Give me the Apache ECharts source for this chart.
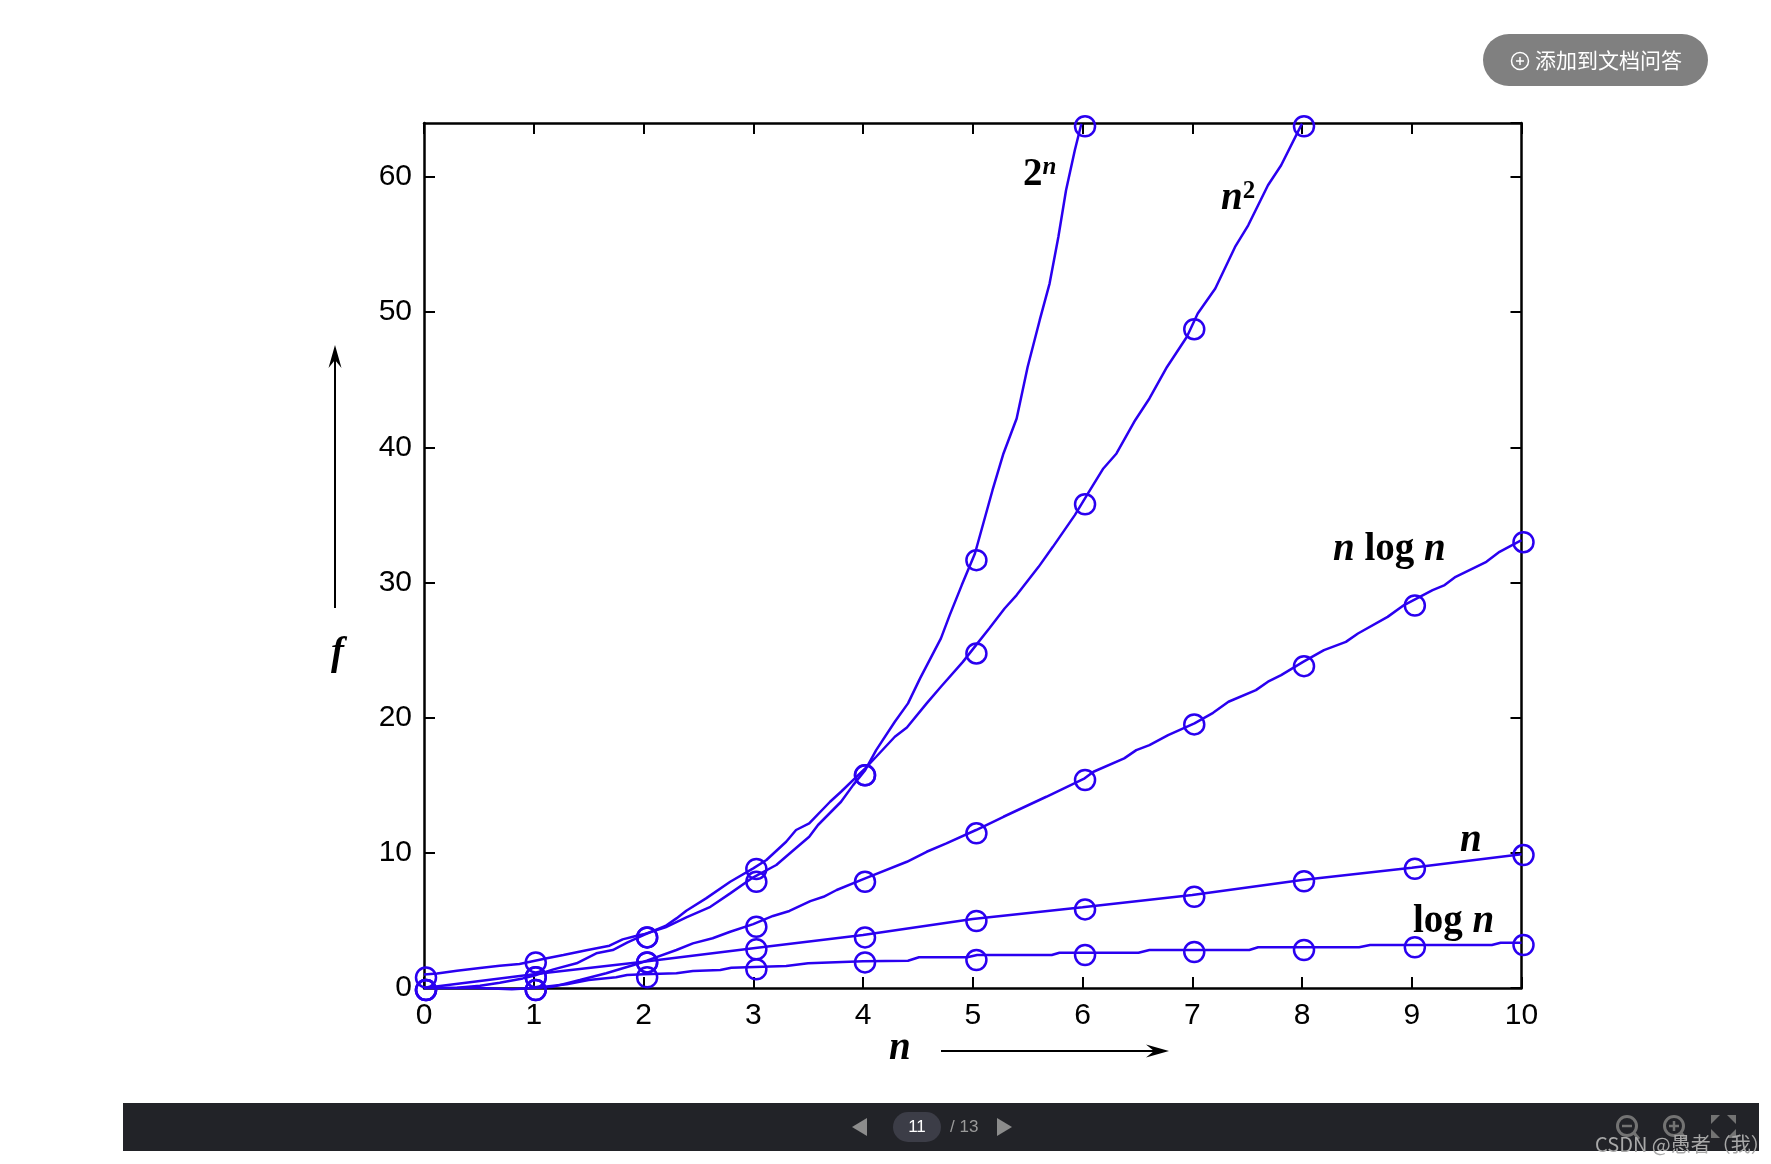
<!DOCTYPE html>
<html>
<head>
<meta charset="utf-8">
<title>growth of functions</title>
<style>
html, body { margin: 0; padding: 0; background: #fff; }
#main { width: 1771px; height: 1164px; }
</style>
<script src="https://cdn.jsdelivr.net/npm/echarts@6/dist/echarts.min.js"></script>
</head>
<body>
<div id="main"></div>
<script>
var yTicks = [0, 10, 20, 30, 40, 50, 60];

// curves as [n, f]
var pow2Line = [[0,1],[0.12,1.08],[0.3,1.28],[0.51,1.48],[0.69,1.65],[0.87,1.78],[1,2],[1.12,2.2],[1.27,2.44],[1.48,2.79],[1.69,3.13],[1.81,3.6],[1.93,3.85],[2,3.97],[2.2,4.49],[2.39,5.23],[2.61,6.01],[2.79,7],[3,8.19],[3.21,9.1],[3.35,10.08],[3.51,11.19],[3.59,12.06],[3.8,13.78],[3.91,15.01],[4.02,16.12],[4.12,17.6],[4.29,19.7],[4.41,21.06],[4.52,22.91],[4.71,25.87],[4.79,27.59],[4.9,29.81],[5.02,32.15],[5.18,36.83],[5.28,39.55],[5.4,42.14],[5.5,45.95],[5.61,49.41],[5.7,52.12],[5.78,55.57],[5.85,59.02],[5.93,61.98],[5.99,63.95]];
var nsqLine = [[0,0],[0.3,0.02],[0.51,0.17],[0.69,0.39],[0.9,0.71],[1,0.91],[1.18,1.38],[1.39,1.83],[1.57,2.57],[1.72,2.81],[1.85,3.35],[2,3.92],[2.2,4.59],[2.3,5.15],[2.39,5.72],[2.57,6.63],[2.79,7.86],[3,8.85],[3.12,9.47],[3.3,10.82],[3.39,11.69],[3.51,12.18],[3.7,13.78],[3.8,14.52],[4.02,16.25],[4.12,17.11],[4.29,18.59],[4.4,19.28],[4.58,21.06],[4.71,22.29],[4.91,24.13],[5.03,25.37],[5.15,26.6],[5.29,28.08],[5.4,29.07],[5.6,31.16],[5.73,32.64],[5.93,34.99],[6.05,36.59],[6.19,38.44],[6.31,39.55],[6.48,42.01],[6.61,43.62],[6.77,45.95],[6.95,48.17],[7.05,49.9],[7.21,51.75],[7.39,54.83],[7.51,56.43],[7.69,59.39],[7.81,60.87],[8,63.95]];
var nlognLine = [[0,0],[0.5,0],[0.8,-0.1],[1,0],[1.18,0.1],[1.42,0.59],[1.66,1.09],[1.91,1.7],[2.03,2.02],[2.3,2.81],[2.45,3.3],[2.63,3.68],[2.79,4.16],[3,4.73],[3.18,5.33],[3.33,5.7],[3.52,6.43],[3.64,6.75],[3.76,7.25],[4.02,8.11],[4.4,9.34],[4.58,10.08],[4.76,10.7],[5.03,11.69],[5.28,12.67],[5.67,14.15],[6.02,15.51],[6.1,16],[6.38,16.99],[6.49,17.6],[6.61,17.97],[6.78,18.71],[7.02,19.58],[7.19,20.36],[7.33,21.18],[7.58,22.04],[7.69,22.66],[7.81,23.15],[8.01,24.13],[8.2,25],[8.4,25.61],[8.51,26.23],[8.78,27.46],[8.93,28.33],[9.19,29.44],[9.3,29.81],[9.4,30.42],[9.68,31.53],[9.8,32.27],[10,33.14]];
var nLine = [[0,0],[1,1.01],[2,1.95],[3,2.94],[4,3.92],[5,5.1],[6,5.97],[7,6.88],[8,7.99],[9,8.9],[10,9.89]];
var lognLine = [[1,0],[1.3,0.27],[1.5,0.59],[1.75,0.79],[1.85,0.96],[2,1.01],[2.3,1.09],[2.45,1.26],[2.7,1.33],[2.8,1.5],[3.3,1.63],[3.5,1.83],[4,1.97],[4.41,2.02],[4.51,2.27],[4.95,2.27],[5.04,2.44],[5.72,2.44],[5.79,2.61],[6.51,2.61],[6.61,2.81],[7.52,2.81],[7.6,3.01],[8.52,3.01],[8.62,3.18],[9.73,3.18],[9.81,3.35],[10,3.35]];

var markN = [0, 1, 2.015, 3.01, 4, 5.015, 6.005, 7, 8, 9.01, 10];
var pow2Marks = [0.97, 2.08, 3.93, 8.05, 15.93, 31.84, 63.94];
var nsqMarks = [0.03, 0.98, 3.93, 8.99, 15.93, 24.94, 35.98, 48.93, 63.94];
var nlognMarks = [0.03, 0.03, 2.08, 4.72, 8.05, 11.63, 15.57, 19.69, 24, 28.49, 33.17];
var nMarks = [0.03, 0.98, 2.08, 3.05, 3.93, 5.14, 6, 6.94, 8.08, 9.01, 10.02];
var lognMarks = [null, 0.03, 0.98, 1.57, 2.08, 2.26, 2.63, 2.85, 3, 3.2, 3.37];

var BLUE = '#2a00f0';
var SERIF = '"Liberation Serif", "Times New Roman", serif';
var CJK = '"Noto Sans CJK SC", sans-serif';
var ICON = '#737373';

var myChart = echarts.init(document.getElementById('main'));

function lineSeries(name, data) {
    return {
        name: name,
        type: 'line',
        data: data,
        symbol: 'none',
        clip: false,
        lineStyle: { color: BLUE, width: 2.5 },
        silent: true
    };
}

function markSeries(name, values) {
    var pts = [];
    for (var i = 0; i < values.length; i++) {
        if (values[i] !== null) pts.push([markN[i], values[i]]);
    }
    return {
        name: name + ' marks',
        type: 'scatter',
        data: pts,
        symbol: 'circle',
        symbolSize: 20,
        symbolOffset: [2, 2.5],
        clip: false,
        itemStyle: { color: 'rgba(0,0,0,0)', borderColor: BLUE, borderWidth: 2.5, opacity: 1 },
        silent: true
    };
}

function mathLabel(x, y, text) {
    return {
        type: 'text',
        x: x,
        y: y,
        style: { text: text, rich: mathRich, fill: '#000' }
    };
}

function stroke(points, color, width) {
    return { type: 'polyline', shape: { points: points }, style: { stroke: color, lineWidth: width, fill: 'none' } };
}

function solid(points, color) {
    return { type: 'polygon', shape: { points: points }, style: { fill: color } };
}

var mathRich = {
    b: { font: 'bold 39px ' + SERIF, fill: '#000' },
    i: { font: 'italic bold 39px ' + SERIF, fill: '#000' },
    si: { font: 'italic bold 25px ' + SERIF, fill: '#000', padding: [0, 0, 15, 0] },
    sb: { font: 'bold 25px ' + SERIF, fill: '#000', padding: [0, 0, 15, 0] }
};

var axisBase = {
    min: 0,
    axisLine: { show: true, onZero: false, lineStyle: { color: '#000', width: 2.5 } },
    axisTick: { show: true, inside: true, length: 11, lineStyle: { color: '#000', width: 2 } },
    splitLine: { show: false }
};

var option = {
    animation: false,
    backgroundColor: '#fff',
    grid: { left: 424, top: 123, width: 1097.5, height: 865 },
    xAxis: [
        Object.assign({}, axisBase, {
            type: 'value', position: 'bottom', max: 10, interval: 1,
            axisLabel: { color: '#000', fontFamily: 'Liberation Sans', fontSize: 30, margin: 13, showMinLabel: true, showMaxLabel: true }
        }),
        Object.assign({}, axisBase, {
            type: 'value', position: 'top', max: 10, interval: 1, axisLabel: { show: false }
        })
    ],
    yAxis: [
        Object.assign({}, axisBase, {
            type: 'value', position: 'left', max: 64, interval: 10,
            axisLabel: { color: '#000', fontFamily: 'Liberation Sans', fontSize: 30, margin: 12, padding: [0, 0, 11, 0], showMinLabel: true, showMaxLabel: false,
                formatter: function (v) { return yTicks.indexOf(v) >= 0 ? String(v) : ''; } }
        }),
        Object.assign({}, axisBase, {
            type: 'value', position: 'right', max: 64, interval: 10, axisLabel: { show: false }
        })
    ],
    series: [
        lineSeries('2^n', pow2Line),
        lineSeries('n^2', nsqLine),
        lineSeries('n log n', nlognLine),
        lineSeries('n', nLine),
        lineSeries('log n', lognLine),
        markSeries('2^n', pow2Marks),
        markSeries('n^2', nsqMarks),
        markSeries('n log n', nlognMarks),
        markSeries('n', nMarks),
        markSeries('log n', lognMarks)
    ],
    graphic: [
        // curve labels
        mathLabel(1023, 155, '{b|2}{si|n}'),
        mathLabel(1221, 179, '{i|n}{sb|2}'),
        mathLabel(1333, 530, '{i|n}{b| log }{i|n}'),
        mathLabel(1460, 821, '{i|n}'),
        mathLabel(1413, 902, '{b|log }{i|n}'),
        mathLabel(889, 1029, '{i|n}'),
        mathLabel(331, 634, '{i|f}'),

        // axis arrows
        stroke([[335, 608], [335, 352]], '#000', 2),
        solid([[335, 345], [341.5, 368], [335, 360], [328.5, 368]], '#000'),
        stroke([[941, 1051], [1160, 1051]], '#000', 2),
        solid([[1169, 1051], [1146, 1044.5], [1154, 1051], [1146, 1057.5]], '#000'),

        // add-to-doc button
        { type: 'rect', shape: { x: 1483, y: 34, width: 225, height: 52, r: 26 }, style: { fill: '#808080' } },
        { type: 'circle', shape: { cx: 1520, cy: 61, r: 8.5 }, style: { fill: 'none', stroke: '#fff', lineWidth: 1.5 } },
        stroke([[1516, 61], [1524, 61]], '#fff', 1.5),
        stroke([[1520, 57], [1520, 65]], '#fff', 1.5),
        { type: 'text', x: 1535, y: 60, style: { text: '添加到文档问答', fill: '#fff', font: '21px ' + CJK, verticalAlign: 'middle' } },

        // viewer toolbar
        { type: 'rect', shape: { x: 123, y: 1103, width: 1636, height: 48 }, style: { fill: '#222328' } },
        solid([[852, 1127], [867, 1118], [867, 1136]], '#8c8c8c'),
        { type: 'rect', shape: { x: 893, y: 1112, width: 48, height: 30, r: 15 }, style: { fill: '#3c3d47' } },
        { type: 'text', x: 917, y: 1127, style: { text: '11', fill: '#fff', font: '17px "Liberation Sans"', align: 'center', verticalAlign: 'middle' } },
        { type: 'text', x: 950, y: 1127, style: { text: '/ 13', fill: '#9a9a9a', font: '17px "Liberation Sans"', verticalAlign: 'middle' } },
        solid([[1012, 1127], [997, 1118], [997, 1136]], '#8c8c8c'),

        { type: 'circle', shape: { cx: 1627, cy: 1126, r: 9.5 }, style: { fill: 'none', stroke: ICON, lineWidth: 3 } },
        stroke([[1622, 1126], [1632, 1126]], ICON, 2.5),
        stroke([[1634, 1133], [1639, 1139]], ICON, 3),
        { type: 'circle', shape: { cx: 1674, cy: 1126, r: 9.5 }, style: { fill: 'none', stroke: ICON, lineWidth: 3 } },
        stroke([[1669, 1126], [1679, 1126]], ICON, 2.5),
        stroke([[1674, 1121], [1674, 1131]], ICON, 2.5),
        stroke([[1681, 1133], [1686, 1139]], ICON, 3),

        solid([[1711, 1115], [1720, 1115], [1711, 1124]], ICON),
        solid([[1736, 1115], [1727, 1115], [1736, 1124]], ICON),
        solid([[1711, 1138], [1720, 1138], [1711, 1129]], ICON),
        solid([[1736, 1138], [1727, 1138], [1736, 1129]], ICON),

        { type: 'text', x: 1595, y: 1144, style: { text: 'CSDN @愚者（我）', fill: '#a8a8a8', font: '20px ' + CJK, verticalAlign: 'middle' } }
    ]
};

myChart.setOption(option, true);
window.onresize = myChart.resize;
</script>
</body>
</html>
